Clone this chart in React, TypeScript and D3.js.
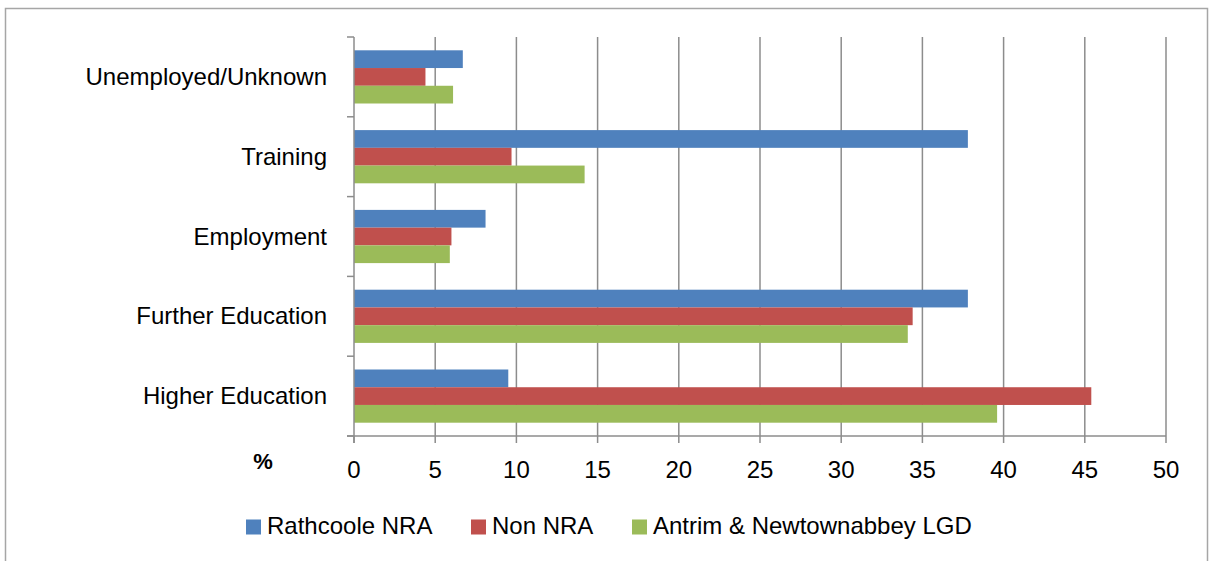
import { useEffect, useRef } from 'react';
import * as d3 from 'd3';

const categories = ['Unemployed/Unknown', 'Training', 'Employment', 'Further Education', 'Higher Education'];
const seriesNames = ['Rathcoole NRA', 'Non NRA', 'Antrim & Newtownabbey LGD'];
const rathcoole = [6.7, 37.8, 8.1, 37.8, 9.5];
const nonNra = [4.4, 9.7, 6.0, 34.4, 45.4];
const antrim = [6.1, 14.2, 5.9, 34.1, 39.6];
const xTicks = [0, 5, 10, 15, 20, 25, 30, 35, 40, 45, 50];
const colors = ['#4F81BD', '#C0504D', '#9BBB59'];

const WIDTH = 1209;
const HEIGHT = 561;
const FONT = '"Liberation Sans", Arial, sans-serif';

export default function App() {
  const svgRef = useRef<SVGSVGElement>(null);

  useEffect(() => {
    if (!svgRef.current) return;
    const svg = d3.select(svgRef.current);
    svg.selectAll('*').remove();

    // chart border
    svg
      .append('rect')
      .attr('x', 5.5)
      .attr('y', 8.5)
      .attr('width', 1202)
      .attr('height', 620)
      .attr('fill', '#fff')
      .attr('stroke', '#a6a6a6')
      .attr('stroke-width', 1.5);

    const left = 354;
    const right = 1166;
    const top = 37;
    const bottom = 436;

    const x = d3.scaleLinear().domain([0, 50]).range([left, right]);
    const y = d3.scaleBand<string>().domain(categories).range([top, bottom]).padding(0);
    const inner = d3
      .scaleBand<number>()
      .domain([0, 1, 2])
      .range([y.bandwidth() / 6, (y.bandwidth() * 5) / 6])
      .padding(0);

    const g = svg.append('g');

    // vertical gridlines
    g.selectAll('.grid')
      .data(xTicks.slice(1))
      .enter()
      .append('line')
      .attr('x1', (d) => x(d))
      .attr('x2', (d) => x(d))
      .attr('y1', top)
      .attr('y2', bottom)
      .attr('stroke', '#8c8c8c')
      .attr('stroke-width', 1.5);

    // bars
    const values = [rathcoole, nonNra, antrim];
    values.forEach((vals, si) => {
      g.selectAll(`.bar-${si}`)
        .data(vals)
        .enter()
        .append('rect')
        .attr('x', x(0))
        .attr('y', (_, i) => (y(categories[i]) ?? 0) + (inner(si) ?? 0))
        .attr('width', (d) => x(d) - x(0))
        .attr('height', inner.bandwidth())
        .attr('fill', colors[si]);
    });

    // left axis
    g.append('line')
      .attr('x1', left)
      .attr('x2', left)
      .attr('y1', top)
      .attr('y2', bottom + 7)
      .attr('stroke', '#8c8c8c')
      .attr('stroke-width', 1.5);
    const catEdges = d3.range(categories.length + 1).map((i) => top + i * y.step());
    g.selectAll('.ytick')
      .data(catEdges)
      .enter()
      .append('line')
      .attr('x1', left - 7)
      .attr('x2', left)
      .attr('y1', (d) => d)
      .attr('y2', (d) => d)
      .attr('stroke', '#8c8c8c')
      .attr('stroke-width', 1.5);

    // bottom axis
    g.append('line')
      .attr('x1', left - 7)
      .attr('x2', right)
      .attr('y1', bottom)
      .attr('y2', bottom)
      .attr('stroke', '#8c8c8c')
      .attr('stroke-width', 1.5);
    g.selectAll('.xtick')
      .data(xTicks)
      .enter()
      .append('line')
      .attr('x1', (d) => x(d))
      .attr('x2', (d) => x(d))
      .attr('y1', bottom)
      .attr('y2', bottom + 7)
      .attr('stroke', '#8c8c8c')
      .attr('stroke-width', 1.5);

    g.selectAll('.xlabel')
      .data(xTicks)
      .enter()
      .append('text')
      .attr('x', (d) => x(d))
      .attr('y', 478)
      .attr('text-anchor', 'middle')
      .attr('font-family', FONT)
      .attr('font-size', '24px')
      .attr('fill', '#000')
      .text((d) => d);

    g.selectAll('.ylabel')
      .data(categories)
      .enter()
      .append('text')
      .attr('x', 327)
      .attr('y', (d) => (y(d) ?? 0) + y.bandwidth() / 2 + 8)
      .attr('text-anchor', 'end')
      .attr('font-family', FONT)
      .attr('font-size', '24px')
      .attr('fill', '#000')
      .text((d) => d);

    // axis title
    g.append('text')
      .attr('x', 263)
      .attr('y', 469)
      .attr('text-anchor', 'middle')
      .attr('font-family', FONT)
      .attr('font-size', '22px')
      .attr('font-weight', 'bold')
      .attr('fill', '#000')
      .text('%');

    // legend
    const legendX = [246, 471, 632];
    const legend = g.append('g');
    seriesNames.forEach((name, i) => {
      legend
        .append('rect')
        .attr('x', legendX[i])
        .attr('y', 519.5)
        .attr('width', 15)
        .attr('height', 15)
        .attr('fill', colors[i]);
      legend
        .append('text')
        .attr('x', legendX[i] + 21)
        .attr('y', 534)
        .attr('font-family', FONT)
        .attr('font-size', '24px')
        .attr('fill', '#000')
        .text(name);
    });
  }, []);

  return (
    <svg
      ref={svgRef}
      width={WIDTH}
      height={HEIGHT}
      style={{ position: 'absolute', left: 0, top: 0, background: '#fff' }}
    />
  );
}
